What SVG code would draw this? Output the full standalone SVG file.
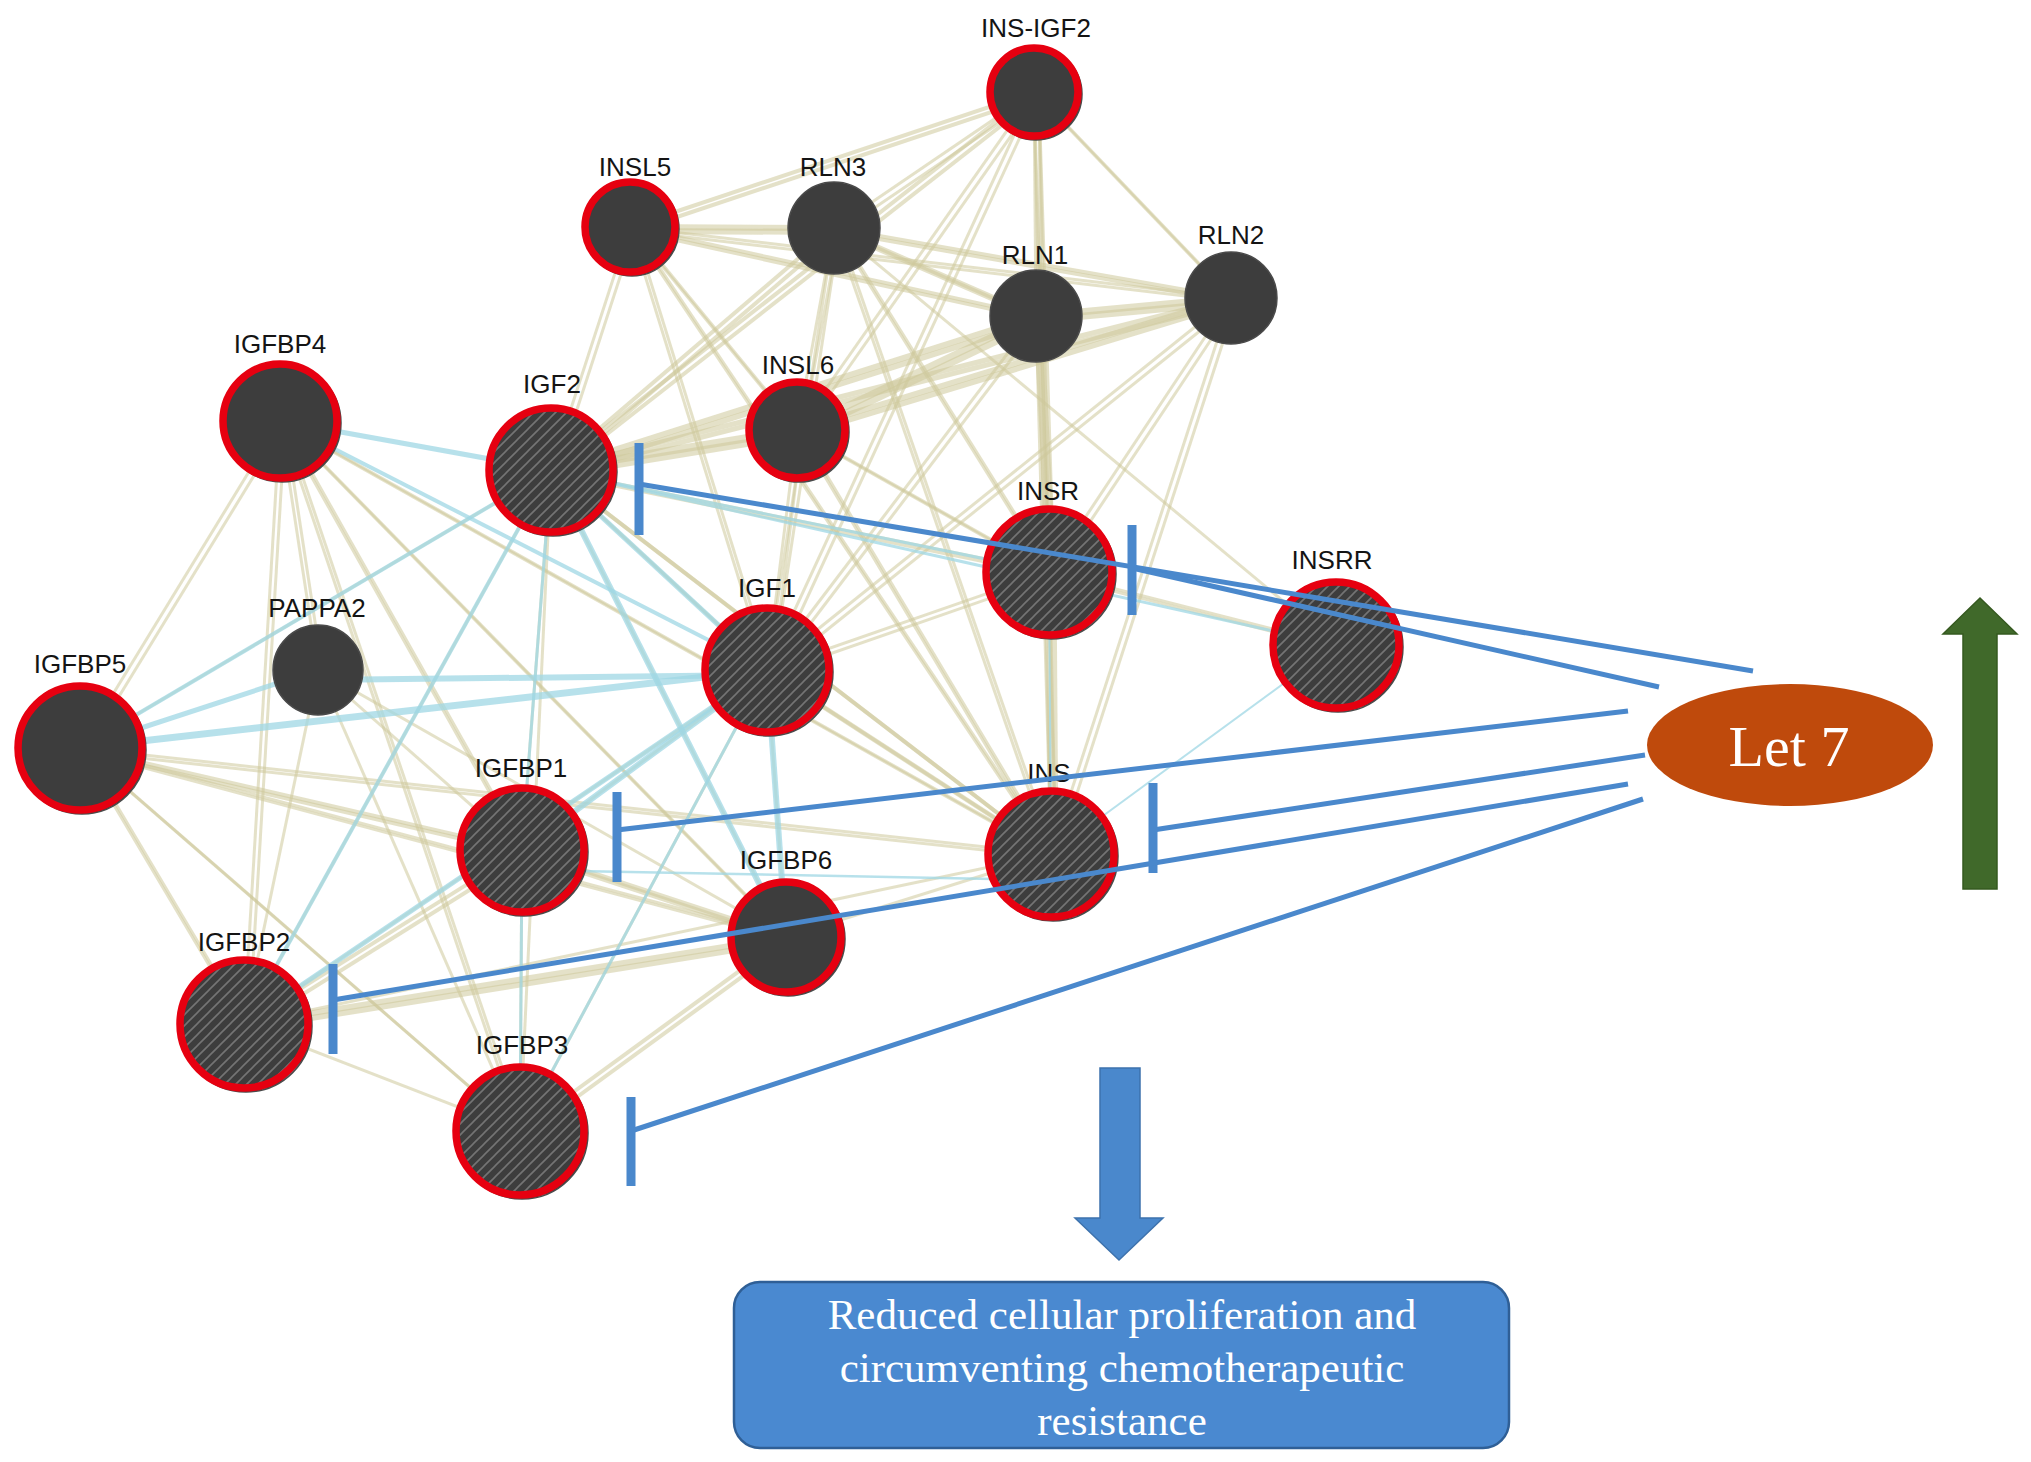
<svg xmlns="http://www.w3.org/2000/svg" width="2031" height="1462" viewBox="0 0 2031 1462">
<defs>
<pattern id="hatch" patternUnits="userSpaceOnUse" width="11" height="11">
<rect width="11" height="11" fill="#3d3d3d"/>
<path d="M0,11 L11,0 M-2,2 L2,-2 M9,13 L13,9" stroke="#747474" stroke-width="1.6"/>
</pattern>
<style>
.k{stroke:#cdc89a;stroke-opacity:0.55;stroke-width:3;fill:none}
.b{stroke:#9fd7e4;stroke-opacity:0.75;stroke-width:4;fill:none}
.inh{stroke:#4a88cc;stroke-width:5;fill:none}
.bar{stroke:#4a88cc;stroke-width:9;fill:none}
.lbl{font-family:"Liberation Sans",Arial,sans-serif;font-size:26px;fill:#141414;text-anchor:middle}
.dk{fill:#3d3d3d;stroke:#4a4a4a;stroke-width:1.5}
.ht{fill:url(#hatch);stroke:#4a4a4a;stroke-width:1.5}
.ring{fill:none;stroke:#e60010;stroke-width:7.5}
</style>
</defs>
<rect width="2031" height="1462" fill="#ffffff"/>
<g id="network-edges">
<g id="kset1">
<line class="k" x1="630" y1="227" x2="834" y2="228" style="stroke-width:6"/>
<line class="k" x1="630" y1="227" x2="1036" y2="316" style="stroke-width:4"/>
<line class="k" x1="630" y1="227" x2="1231" y2="298"/>
<line class="k" x1="630" y1="227" x2="1034" y2="92" style="stroke-width:4"/>
<line class="k" x1="834" y1="228" x2="1034" y2="92"/>
<line class="k" x1="834" y1="228" x2="1036" y2="316" style="stroke-width:5"/>
<line class="k" x1="834" y1="228" x2="1231" y2="298" style="stroke-width:4"/>
<line class="k" x1="1034" y1="92" x2="1036" y2="316"/>
<line class="k" x1="1034" y1="92" x2="1231" y2="298"/>
<line class="k" x1="1036" y1="316" x2="1231" y2="298" style="stroke-width:7"/>
<line class="k" x1="1034" y1="92" x2="551" y2="470" style="stroke-width:4"/>
<line class="k" x1="1034" y1="92" x2="797" y2="430"/>
<line class="k" x1="1034" y1="92" x2="1049" y2="572"/>
<line class="k" x1="1034" y1="92" x2="1051" y2="854"/>
<line class="k" x1="1034" y1="92" x2="767" y2="670"/>
<line class="k" x1="1036" y1="316" x2="551" y2="470" style="stroke-width:6"/>
<line class="k" x1="1231" y1="298" x2="551" y2="470" style="stroke-width:5"/>
<line class="k" x1="1036" y1="316" x2="797" y2="430" style="stroke-width:7"/>
<line class="k" x1="1231" y1="298" x2="797" y2="430" style="stroke-width:6"/>
<line class="k" x1="834" y1="228" x2="551" y2="470" style="stroke-width:4"/>
<line class="k" x1="834" y1="228" x2="797" y2="430"/>
<line class="k" x1="630" y1="227" x2="551" y2="470"/>
<line class="k" x1="630" y1="227" x2="797" y2="430"/>
<line class="k" x1="630" y1="227" x2="767" y2="670"/>
<line class="k" x1="630" y1="227" x2="1051" y2="854"/>
<line class="k" x1="834" y1="228" x2="767" y2="670"/>
<line class="k" x1="834" y1="228" x2="1051" y2="854"/>
<line class="k" x1="834" y1="228" x2="1049" y2="572"/>
<line class="k" x1="1036" y1="316" x2="1049" y2="572" style="stroke-width:5"/>
<line class="k" x1="1036" y1="316" x2="1051" y2="854"/>
<line class="k" x1="1231" y1="298" x2="1049" y2="572"/>
<line class="k" x1="1231" y1="298" x2="1051" y2="854"/>
<line class="k" x1="1231" y1="298" x2="767" y2="670"/>
<line class="k" x1="1036" y1="316" x2="767" y2="670"/>
<line class="k" x1="797" y1="430" x2="767" y2="670"/>
<line class="k" x1="797" y1="430" x2="1051" y2="854"/>
<line class="k" x1="797" y1="430" x2="1049" y2="572"/>
<line class="k" x1="551" y1="470" x2="797" y2="430" style="stroke-width:8"/>
<line class="k" x1="551" y1="470" x2="767" y2="670"/>
<line class="k" x1="551" y1="470" x2="1051" y2="854" style="stroke-width:4"/>
<line class="k" x1="551" y1="470" x2="1049" y2="572"/>
<line class="k" x1="767" y1="670" x2="1051" y2="854" style="stroke-width:4"/>
<line class="k" x1="767" y1="670" x2="1049" y2="572"/>
<line class="k" x1="1049" y1="572" x2="1051" y2="854" style="stroke-width:5"/>
<line class="k" x1="1049" y1="572" x2="1336" y2="645"/>
<line class="k" x1="280" y1="421" x2="80" y2="748"/>
<line class="k" x1="280" y1="421" x2="244" y2="1024"/>
<line class="k" x1="280" y1="421" x2="522" y2="850"/>
<line class="k" x1="280" y1="421" x2="520" y2="1131"/>
<line class="k" x1="280" y1="421" x2="786" y2="937"/>
<line class="k" x1="280" y1="421" x2="1051" y2="854"/>
<line class="k" x1="280" y1="421" x2="318" y2="670"/>
<line class="k" x1="80" y1="748" x2="522" y2="850" style="stroke-width:4"/>
<line class="k" x1="80" y1="748" x2="786" y2="937"/>
<line class="k" x1="80" y1="748" x2="520" y2="1131"/>
<line class="k" x1="80" y1="748" x2="244" y2="1024"/>
<line class="k" x1="80" y1="748" x2="1051" y2="854"/>
<line class="k" x1="522" y1="850" x2="244" y2="1024" style="stroke-width:4"/>
<line class="k" x1="522" y1="850" x2="786" y2="937" style="stroke-width:5"/>
<line class="k" x1="244" y1="1024" x2="786" y2="937" style="stroke-width:6"/>
<line class="k" x1="520" y1="1131" x2="786" y2="937" style="stroke-width:4"/>
</g>
<use href="#kset1" transform="translate(5,4)"/>
<line class="k" x1="551" y1="470" x2="522" y2="850"/>
<line class="k" x1="551" y1="470" x2="244" y2="1024"/>
<line class="k" x1="551" y1="470" x2="520" y2="1131"/>
<line class="k" x1="551" y1="470" x2="80" y2="748"/>
<line class="k" x1="551" y1="470" x2="786" y2="937"/>
<line class="k" x1="522" y1="850" x2="520" y2="1131"/>
<line class="k" x1="522" y1="850" x2="767" y2="670"/>
<line class="k" x1="244" y1="1024" x2="520" y2="1131"/>
<line class="k" x1="244" y1="1024" x2="767" y2="670"/>
<line class="k" x1="244" y1="1024" x2="1051" y2="854"/>
<line class="k" x1="520" y1="1131" x2="767" y2="670"/>
<line class="k" x1="786" y1="937" x2="1051" y2="854"/>
<line class="k" x1="786" y1="937" x2="767" y2="670"/>
<line class="k" x1="318" y1="670" x2="522" y2="850"/>
<line class="k" x1="318" y1="670" x2="244" y2="1024"/>
<line class="k" x1="318" y1="670" x2="786" y2="937"/>
<line class="k" x1="318" y1="670" x2="520" y2="1131"/>
<line class="k" x1="1336" y1="645" x2="834" y2="228"/>
<line class="b" x1="280" y1="421" x2="551" y2="470" style="stroke-width:5"/>
<line class="b" x1="280" y1="421" x2="767" y2="670"/>
<line class="b" x1="551" y1="470" x2="767" y2="670" style="stroke-width:5"/>
<line class="b" x1="551" y1="470" x2="786" y2="937" style="stroke-width:6"/>
<line class="b" x1="551" y1="470" x2="522" y2="850" style="stroke-width:3"/>
<line class="b" x1="522" y1="850" x2="520" y2="1131" style="stroke-width:3"/>
<line class="b" x1="551" y1="470" x2="244" y2="1024"/>
<line class="b" x1="551" y1="470" x2="80" y2="748"/>
<line class="b" x1="80" y1="748" x2="767" y2="670" style="stroke-width:7"/>
<line class="b" x1="318" y1="680" x2="767" y2="675" style="stroke-width:6"/>
<line class="b" x1="80" y1="748" x2="318" y2="670" style="stroke-width:5"/>
<line class="b" x1="767" y1="670" x2="522" y2="850" style="stroke-width:6"/>
<line class="b" x1="767" y1="670" x2="244" y2="1024" style="stroke-width:5"/>
<line class="b" x1="767" y1="670" x2="520" y2="1131" style="stroke-width:3"/>
<line class="b" x1="767" y1="670" x2="786" y2="937" style="stroke-width:6"/>
<line class="b" x1="522" y1="870" x2="1051" y2="880" style="stroke-width:2.5"/>
<line class="b" x1="1049" y1="572" x2="1051" y2="854" style="stroke-width:2"/>
<line class="b" x1="1336" y1="645" x2="1051" y2="854" style="stroke-width:2"/>
<line class="b" x1="551" y1="470" x2="1049" y2="572" style="stroke-width:3"/>
<line class="b" x1="551" y1="470" x2="1336" y2="645" style="stroke-width:3"/>
</g>
<g id="node-INS-IGF2"><circle class="dk" cx="1036" cy="94" r="46"/><circle class="ring" cx="1034" cy="92" r="44"/><text class="lbl" x="1036" y="37">INS-IGF2</text></g>
<g id="node-INSL5"><circle class="dk" cx="632" cy="229" r="47"/><circle class="ring" cx="630" cy="227" r="45"/><text class="lbl" x="635" y="176">INSL5</text></g>
<g id="node-RLN3"><circle class="dk" cx="834" cy="228" r="46"/><text class="lbl" x="833" y="176">RLN3</text></g>
<g id="node-RLN1"><circle class="dk" cx="1036" cy="316" r="46"/><text class="lbl" x="1035" y="264">RLN1</text></g>
<g id="node-RLN2"><circle class="dk" cx="1231" cy="298" r="46"/><text class="lbl" x="1231" y="244">RLN2</text></g>
<g id="node-IGFBP4"><circle class="dk" cx="282" cy="423" r="59"/><circle class="ring" cx="280" cy="421" r="57"/><text class="lbl" x="280" y="353">IGFBP4</text></g>
<g id="node-IGF2"><circle class="ht" cx="553" cy="472" r="64"/><circle class="ring" cx="551" cy="470" r="62"/><text class="lbl" x="552" y="393">IGF2</text></g>
<g id="node-INSL6"><circle class="dk" cx="799" cy="432" r="50"/><circle class="ring" cx="797" cy="430" r="48"/><text class="lbl" x="798" y="374">INSL6</text></g>
<g id="node-INSR"><circle class="ht" cx="1051" cy="574" r="65"/><circle class="ring" cx="1049" cy="572" r="63"/><text class="lbl" x="1048" y="500">INSR</text></g>
<g id="node-INSRR"><circle class="ht" cx="1338" cy="647" r="65"/><circle class="ring" cx="1336" cy="645" r="63"/><text class="lbl" x="1332" y="569">INSRR</text></g>
<g id="node-IGF1"><circle class="ht" cx="769" cy="672" r="64"/><circle class="ring" cx="767" cy="670" r="62"/><text class="lbl" x="767" y="597">IGF1</text></g>
<g id="node-PAPPA2"><circle class="dk" cx="318" cy="670" r="45"/><text class="lbl" x="317" y="617">PAPPA2</text></g>
<g id="node-IGFBP5"><circle class="dk" cx="82" cy="750" r="64"/><circle class="ring" cx="80" cy="748" r="62"/><text class="lbl" x="80" y="673">IGFBP5</text></g>
<g id="node-IGFBP1"><circle class="ht" cx="524" cy="852" r="64"/><circle class="ring" cx="522" cy="850" r="62"/><text class="lbl" x="521" y="777">IGFBP1</text></g>
<g id="node-INS"><circle class="ht" cx="1053" cy="856" r="65"/><circle class="ring" cx="1051" cy="854" r="63"/><text class="lbl" x="1049" y="782">INS</text></g>
<g id="node-IGFBP6"><circle class="dk" cx="788" cy="939" r="57"/><circle class="ring" cx="786" cy="937" r="55"/><text class="lbl" x="786" y="869">IGFBP6</text></g>
<g id="node-IGFBP2"><circle class="ht" cx="246" cy="1026" r="66"/><circle class="ring" cx="244" cy="1024" r="64"/><text class="lbl" x="244" y="951">IGFBP2</text></g>
<g id="node-IGFBP3"><circle class="ht" cx="522" cy="1133" r="66"/><circle class="ring" cx="520" cy="1131" r="64"/><text class="lbl" x="522" y="1054">IGFBP3</text></g>
<g id="connectors">
<line class="inh" x1="639" y1="484" x2="1753" y2="671"/>
<line class="bar" x1="639" y1="443" x2="639" y2="535"/>
<line class="inh" x1="1132" y1="568" x2="1659" y2="687"/>
<line class="bar" x1="1132" y1="525" x2="1132" y2="615"/>
<line class="inh" x1="617" y1="830" x2="1628" y2="711"/>
<line class="bar" x1="617" y1="792" x2="617" y2="882"/>
<line class="inh" x1="1153" y1="830" x2="1645" y2="755"/>
<line class="bar" x1="1153" y1="783" x2="1153" y2="873"/>
<line class="inh" x1="333" y1="1000" x2="1628" y2="784"/>
<line class="bar" x1="333" y1="964" x2="333" y2="1054"/>
<line class="inh" x1="631" y1="1131" x2="1643" y2="799"/>
<line class="bar" x1="631" y1="1097" x2="631" y2="1186"/>
</g>
<g id="node-Let7">
<ellipse cx="1790" cy="745" rx="143" ry="61" fill="#bf4a0c"/>
<text x="1789" y="766" font-family="'Liberation Serif','Times New Roman',serif" font-size="58" fill="#ffffff" text-anchor="middle">Let 7</text>
</g>
<g id="arrow-up">
<polygon points="1963,889 1997,889 1997,634 2017,634 1980,598 1943,634 1963,634" fill="#40692a" stroke="#35591f" stroke-width="1.5"/>
</g>
<g id="arrow-down">
<polygon points="1100,1068 1140,1068 1140,1218 1163,1218 1119,1260 1075,1218 1100,1218" fill="#4a88cc" stroke="#3d72ad" stroke-width="1.5"/>
</g>
<g id="node-outcome">
<rect x="734" y="1282" width="775" height="166" rx="26" ry="26" fill="#4a89d0" stroke="#2f5f96" stroke-width="2.5"/>
<g font-family="'Liberation Serif','Times New Roman',serif" font-size="43" fill="#ffffff" text-anchor="middle">
<text x="1122" y="1329">Reduced cellular proliferation and</text>
<text x="1122" y="1382">circumventing chemotherapeutic</text>
<text x="1122" y="1435">resistance</text>
</g>
</g>
</svg>
